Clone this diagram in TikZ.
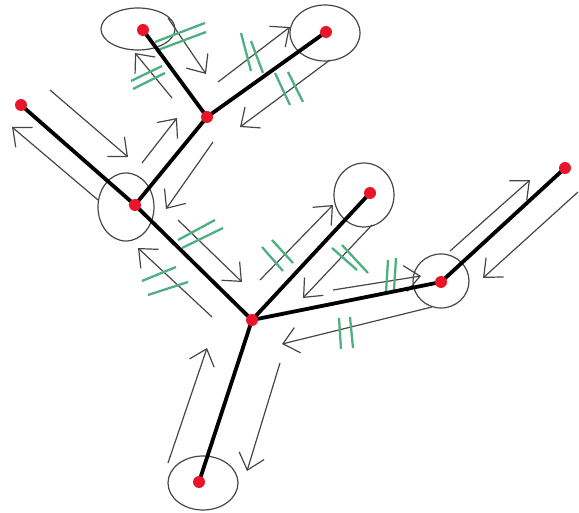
\documentclass[tikz,border=0pt]{standalone}
\usetikzlibrary{arrows.meta,backgrounds}
\definecolor{dotred}{RGB}{232,22,40}
\definecolor{tickgreen}{RGB}{78,176,128}
\definecolor{pen}{RGB}{70,70,70}
\tikzset{
  dot/.style={circle,fill=dotred,inner sep=0pt,minimum size=12pt},
  edge/.style={line width=3.8pt,black,line cap=round},
  ring/.style={draw=pen,line width=1.2pt},
  garr/.style={draw=pen,line width=1.2pt,-{Straight Barb[length=15pt,width=26pt,line width=1.2pt]}},
  tick/.style={draw=tickgreen,line width=2.3pt}
}
\begin{document}
\begin{tikzpicture}[x=1pt,y=-1pt]
\useasboundingbox (0,0) rectangle (579,513);
% nodes (red dots)
\node[dot] (A) at (143,30) {};
\node[dot] (B) at (326,32) {};
\node[dot] (C) at (207,117) {};
\node[dot] (D) at (21,105) {};
\node[dot] (E) at (135,205) {};
\node[dot] (F) at (252,320) {};
\node[dot] (G) at (370,193) {};
\node[dot] (H) at (441,282) {};
\node[dot] (I) at (565,168) {};
\node[dot] (J) at (199,482) {};
\begin{pgfonlayer}{background}
% circles
\draw[ring] (138,29) ellipse [x radius=37, y radius=21];
\draw[ring] (325,33) ellipse [x radius=35, y radius=28];
\draw[ring] (126,207) ellipse [x radius=28, y radius=34];
\draw[ring] (364,195) ellipse [x radius=30, y radius=32];
\draw[ring] (441,281) ellipse [x radius=28, y radius=27];
\draw[ring] (203,483) ellipse [x radius=35, y radius=27];
% arrows
\coordinate (a1s) at (168,18);  \coordinate (a1e) at (206,74);
\coordinate (a2s) at (172,98);  \coordinate (a2e) at (135,53);
\coordinate (a3s) at (218,82);  \coordinate (a3e) at (290,27);
\coordinate (a4s) at (330,60);  \coordinate (a4e) at (240,127);
\coordinate (a5s) at (50,90);   \coordinate (a5e) at (128,157);
\coordinate (a6s) at (98,200);  \coordinate (a6e) at (12,127);
\coordinate (a7s) at (142,163); \coordinate (a7e) at (177,118);
\coordinate (a8s) at (213,142); \coordinate (a8e) at (166,209);
\coordinate (a9s) at (178,220); \coordinate (a9e) at (242,282);
\coordinate (a10s) at (212,317); \coordinate (a10e) at (138,248);
\coordinate (a11s) at (260,280); \coordinate (a11e) at (333,205);
\coordinate (a12s) at (372,225); \coordinate (a12e) at (303,298);
\coordinate (a13s) at (333,290); \coordinate (a13e) at (421,276);
\coordinate (a14s) at (432,307); \coordinate (a14e) at (282,344);
\coordinate (a15s) at (450,251); \coordinate (a15e) at (530,180);
\coordinate (a16s) at (578,192); \coordinate (a16e) at (483,278);
\coordinate (a17s) at (168,463); \coordinate (a17e) at (207,348);
\coordinate (a18s) at (280,363); \coordinate (a18e) at (247,471);
\foreach \k in {1,...,18} \draw[garr] (a\k s) -- (a\k e);
% green ticks
\draw[tick] (155,42) -- (205,23);  \draw[tick] (158,50) -- (206,32);
\draw[tick] (131,81) -- (162,66);  \draw[tick] (133,89) -- (165,73);
\draw[tick] (241,33) -- (251,71);  \draw[tick] (251,41) -- (263,73);
\draw[tick] (275,73) -- (290,105); \draw[tick] (288,72) -- (303,102);
\draw[tick] (178,240) -- (215,220); \draw[tick] (182,248) -- (223,228);
\draw[tick] (142,281) -- (176,267); \draw[tick] (148,295) -- (188,282);
\draw[tick] (262,247) -- (283,271); \draw[tick] (272,240) -- (293,263);
\draw[tick] (332,248) -- (357,270); \draw[tick] (342,245) -- (368,273);
\draw[tick] (388,260) -- (386,293); \draw[tick] (396,258) -- (394,290);
\draw[tick] (339,318) -- (341,349); \draw[tick] (350,317) -- (353,348);
% edges
\draw[edge] (A.center) -- (C.center);
\draw[edge] (C.center) -- (B.center);
\draw[edge] (C.center) -- (E.center);
\draw[edge] (D.center) -- (E.center);
\draw[edge] (E.center) -- (F.center);
\draw[edge] (F.center) -- (G.center);
\draw[edge] (F.center) -- (H.center);
\draw[edge] (H.center) -- (I.center);
\draw[edge] (F.center) -- (J.center);
\end{pgfonlayer}
\end{tikzpicture}
\end{document}
